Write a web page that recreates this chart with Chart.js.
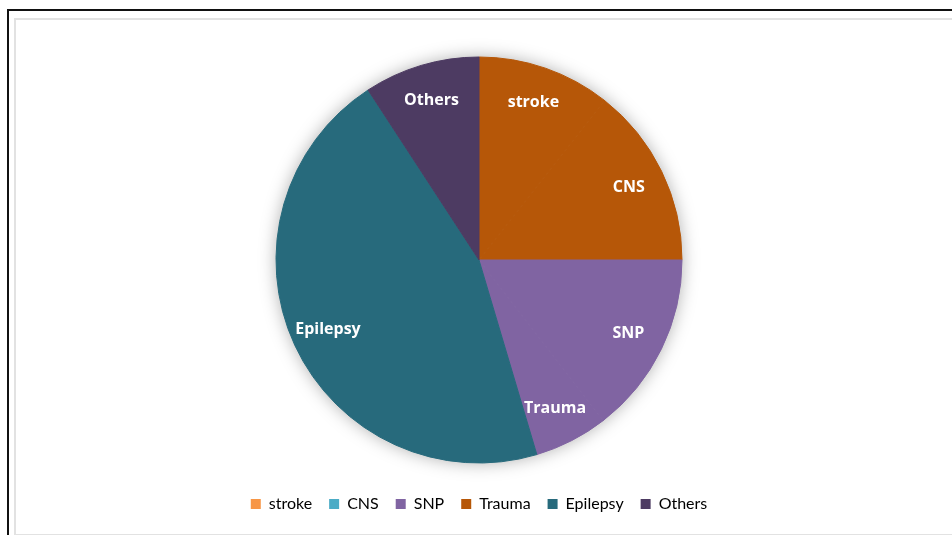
<!DOCTYPE html>
<html>
<head>
<meta charset="utf-8">
<script src="https://cdn.jsdelivr.net/npm/chart.js@4"></script>
<style>
  body { margin: 0; background: #fff; width: 952px; height: 535px; overflow: hidden; position: relative; }
  .outer { position: absolute; left: 7px; top: 9px; width: 960px; height: 540px; border-left: 2px solid #111; border-top: 2px solid #111; }
  .inner { position: absolute; left: 14px; top: 18px; width: 936px; height: 514px; border: 2px solid #e2e2e2; }
  .wrap { position: absolute; left: 16px; top: 20px; width: 934px; height: 512px; }
</style>
</head>
<body>
<div class="outer"></div>
<div class="inner"></div>
<div class="wrap"><canvas id="causes"></canvas></div>
<script>
var categories = ["stroke", "CNS", "SNP", "Trauma", "Epilepsy", "Others"];
var shares = [10.6, 14.4, 14.5, 5.9, 45.4, 9.2];
var sliceColors = ['#b65708', '#b65708', '#8064a2', '#8064a2', '#276a7c', '#4d3b62'];
var legendColors = ['#f79646', '#4bacc6', '#8064a2', '#b65708', '#276a7c', '#4d3b62'];

// soft glow behind the pie
var pieShadow = {
    id: 'pieShadow',
    beforeDatasetsDraw: function (chart) {
        var arc = chart.getDatasetMeta(0).data[0];
        if (!arc) return;
        var ctx = chart.ctx;
        ctx.save();
        ctx.shadowColor = 'rgba(0,0,0,0.35)';
        ctx.shadowBlur = 18;
        ctx.fillStyle = '#fff';
        ctx.beginPath();
        ctx.arc(arc.x, arc.y, arc.outerRadius - 1, 0, Math.PI * 2);
        ctx.fill();
        ctx.restore();
    }
};

// category names written on the slices
var sliceLabels = {
    id: 'sliceLabels',
    afterDatasetsDraw: function (chart) {
        var ctx = chart.ctx;
        ctx.save();
        ctx.font = 'bold 16px "Open Sans"';
        ctx.fillStyle = '#ffffff';
        ctx.textAlign = 'center';
        ctx.textBaseline = 'middle';
        chart.getDatasetMeta(0).data.forEach(function (arc, i) {
            var p = arc.getProps(['x', 'y', 'startAngle', 'endAngle', 'outerRadius'], true);
            var mid = (p.startAngle + p.endAngle) / 2;
            var r = p.outerRadius * 0.82;
            ctx.fillText(categories[i], p.x + Math.cos(mid) * r, p.y + Math.sin(mid) * r);
        });
        ctx.restore();
    }
};

var causes = document.getElementById('causes').getContext('2d');

var chart = new Chart(causes, {
    type: 'pie',
    data: {
        labels: categories,
        datasets: [{
            data: shares,
            backgroundColor: sliceColors,
            borderColor: sliceColors,
            borderWidth: 1,
            radius: 203
        }]
    },
    options: {
        responsive: true,
        maintainAspectRatio: false,
        animation: false,
        layout: {
            padding: { top: 21, bottom: 10, left: 0, right: 8 }
        },
        plugins: {
            tooltip: { enabled: false },
            legend: {
                position: 'bottom',
                labels: {
                    boxWidth: 10,
                    boxHeight: 10,
                    padding: 17,
                    color: '#595959',
                    font: { family: 'Lato', size: 16 },
                    generateLabels: function (chart) {
                        return categories.map(function (c, i) {
                            return {
                                text: c,
                                fillStyle: legendColors[i],
                                strokeStyle: legendColors[i],
                                lineWidth: 0,
                                index: i
                            };
                        });
                    }
                }
            }
        }
    },
    plugins: [pieShadow, sliceLabels]
});
</script>
</body>
</html>
